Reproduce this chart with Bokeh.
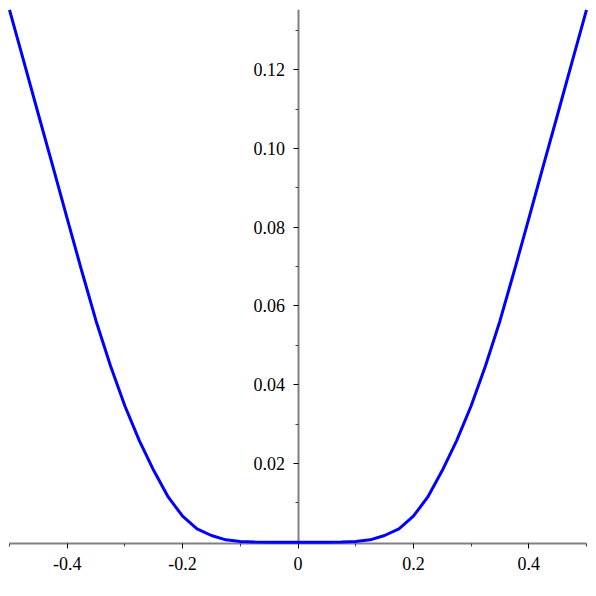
from bokeh.plotting import figure
from bokeh.models import LinearAxis, FixedTicker, Range1d
from bokeh.embed import file_html
from bokeh.resources import INLINE

# curve values
x_vals = [-0.5, -0.475, -0.45, -0.425, -0.4, -0.375, -0.35, -0.325, -0.3, -0.275,
          -0.25, -0.225, -0.2, -0.175, -0.15, -0.125, -0.1, -0.075, -0.05, 0.0,
          0.05, 0.075, 0.1, 0.125, 0.15, 0.175, 0.2, 0.225, 0.25, 0.275,
          0.3, 0.325, 0.35, 0.375, 0.4, 0.425, 0.45, 0.475, 0.5]
y_vals = [0.1352, 0.1220, 0.1087, 0.0955, 0.0822, 0.0690, 0.0562, 0.0448, 0.0346, 0.0258,
          0.0182, 0.0115, 0.0066, 0.0034, 0.0017, 0.0006, 0.0002, 0.00005, 0.0, 0.0,
          0.0, 0.00005, 0.0002, 0.0006, 0.0017, 0.0034, 0.0066, 0.0115, 0.0182, 0.0258,
          0.0346, 0.0448, 0.0562, 0.0690, 0.0822, 0.0955, 0.1087, 0.1220, 0.1352]

x_ticks = [-0.4, -0.2, 0.0, 0.2, 0.4]
x_tick_labels = ["-0.4", "-0.2", "0", "0.2", "0.4"]
x_minor = [-0.5, -0.3, -0.1, 0.1, 0.3, 0.5]
y_ticks = [0.02, 0.04, 0.06, 0.08, 0.10, 0.12]
y_tick_labels = ["0.02", "0.04", "0.06", "0.08", "0.10", "0.12"]
y_minor = [0.01, 0.03, 0.05, 0.07, 0.09, 0.11, 0.13]

p = figure(width=596, height=596, frame_width=577, frame_height=534,
           output_backend="svg", toolbar_location=None,
           x_axis_location=None, y_axis_location=None,
           x_range=Range1d(-0.5, 0.5), y_range=Range1d(-0.00033, 0.1353),
           min_border_left=9, min_border_top=9, min_border_right=10, min_border_bottom=53)
p.grid.visible = False
p.outline_line_color = None
p.background_fill_color = "white"
p.border_fill_color = "white"

font = "Liberation Serif"

xa = LinearAxis()
xa.ticker = FixedTicker(ticks=x_ticks, minor_ticks=x_minor)
xa.major_label_overrides = {t: l for t, l in zip(x_ticks, x_tick_labels)}
ya = LinearAxis(fixed_location=0)
ya.ticker = FixedTicker(ticks=y_ticks, minor_ticks=y_minor)
ya.major_label_overrides = {t: l for t, l in zip(y_ticks, y_tick_labels)}

for ax in (xa, ya):
    ax.axis_line_color = "#808080"
    ax.axis_line_width = 2
    ax.major_tick_line_color = "black"
    ax.minor_tick_line_color = "#404040"
    ax.major_tick_in = 0
    ax.minor_tick_in = 0
    ax.major_tick_out = 5
    ax.minor_tick_out = 3
    ax.major_label_text_font = font
    ax.major_label_text_font_size = "18px"
    ax.major_label_text_color = "black"
xa.major_label_standoff = 8
ya.major_label_standoff = 8

p.add_layout(xa, "below")
p.add_layout(ya, "left")

p.line(x_vals, y_vals, line_color="#0000FF", line_width=3, level="overlay")

open("out.html", "w").write(file_html(p, INLINE))
